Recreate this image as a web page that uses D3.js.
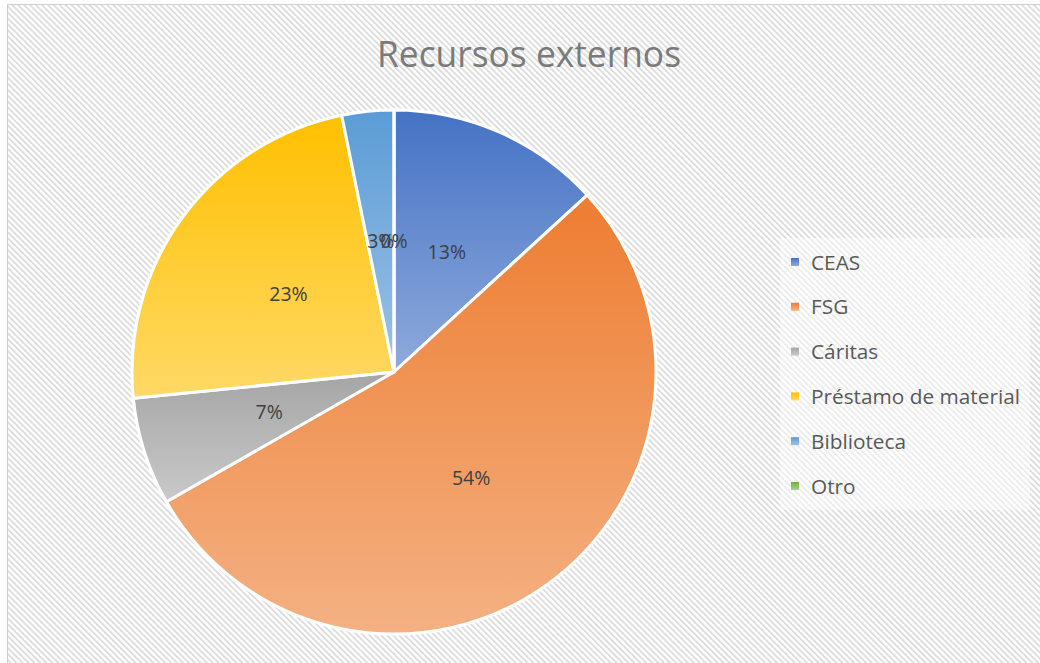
<!DOCTYPE html>
<html><head><meta charset="utf-8">
<script src="https://cdn.jsdelivr.net/npm/d3@7"></script>
<style>html,body{margin:0;padding:0;background:#fff;}svg{display:block;}</style>
</head><body>
<svg id="chart" width="1040" height="663"></svg>
<script>
const title = "Recursos externos";
const categories = ["CEAS", "FSG", "Cáritas", "Préstamo de material", "Biblioteca", "Otro"];
const values = [13.2, 53.55, 6.65, 23.4, 3.2, 0];
const colorsTop = ["#4472C4", "#ED7D31", "#A5A5A5", "#FFC000", "#5B9BD5", "#70AD47"];
const colorsBottom = ["#8FAADC", "#F4B183", "#C9C9C9", "#FFD966", "#9DC3E6", "#A9D18E"];

const W = 1040, H = 663;
const svg = d3.select("#chart");
const defs = svg.append("defs");

const pat = defs.append("pattern").attr("id", "hatch").attr("patternUnits", "userSpaceOnUse")
  .attr("width", 4.2).attr("height", 4.2).attr("patternTransform", "rotate(-45)");
pat.append("rect").attr("width", 4.2).attr("height", 4.2).attr("fill", "#ffffff");
pat.append("rect").attr("width", 1.8).attr("height", 4.2).attr("fill", "#dcdcdc");

svg.append("rect").attr("x", 0).attr("y", 0).attr("width", W).attr("height", H).attr("fill", "#fff");
svg.append("rect").attr("x", 7.5).attr("y", 4.5).attr("width", W).attr("height", H)
  .attr("fill", "url(#hatch)").attr("stroke", "#d0d0d0").attr("stroke-width", 1);

svg.append("text").attr("x", 529).attr("y", 67).attr("text-anchor", "middle")
  .attr("font-family", "'Open Sans', 'Noto Sans', sans-serif").attr("font-size", 37)
  .attr("font-weight", 400).attr("fill", "#7a7a7a")
  .attr("textLength", 304).attr("lengthAdjust", "spacingAndGlyphs")
  .text(title);

const cx = 394, cy = 372, R = 262;
const pie = d3.pie().sort(null).value(d => d)(values);
const arc = d3.arc().innerRadius(0).outerRadius(R);

categories.forEach((c, i) => {
  const g = defs.append("linearGradient").attr("id", "grad" + i)
    .attr("x1", 0).attr("y1", 0).attr("x2", 0).attr("y2", 1);
  g.append("stop").attr("offset", "0%").attr("stop-color", colorsTop[i]);
  g.append("stop").attr("offset", "100%").attr("stop-color", colorsBottom[i]);
});

const gp = svg.append("g").attr("transform", `translate(${cx},${cy})`);
gp.selectAll("path").data(pie).join("path")
  .attr("d", arc)
  .attr("fill", (d, i) => `url(#grad${i})`)
  .attr("stroke", "#fff").attr("stroke-width", 3).attr("stroke-linejoin", "round");

const total = d3.sum(values);
gp.selectAll("text.lbl").data(pie).join("text").attr("class", "lbl")
  .attr("transform", d => `translate(${arc.centroid(d)})`)
  .attr("text-anchor", "middle").attr("dy", "0.35em")
  .attr("font-family", "'Open Sans', 'Noto Sans', sans-serif").attr("font-size", 19.5)
  .attr("fill", "#404040")
  .text(d => Math.round(d.data / total * 100) + "%");

const lg = svg.append("g");
lg.append("rect").attr("x", 780).attr("y", 238).attr("width", 250).attr("height", 272)
  .attr("fill", "#fff").attr("opacity", 0.45);
const items = lg.selectAll("g.item").data(categories).join("g").attr("class", "item")
  .attr("transform", (d, i) => `translate(795,${262 + i * 44.8})`);
items.append("rect").attr("x", -4).attr("y", -4).attr("width", 8).attr("height", 8)
  .attr("fill", (d, i) => `url(#grad${i})`);
items.append("text").attr("x", 16).attr("dy", "0.36em")
  .attr("font-family", "'Open Sans', 'Noto Sans', sans-serif").attr("font-size", 20.8)
  .attr("fill", "#595959").text(d => d);
</script>
</body></html>
